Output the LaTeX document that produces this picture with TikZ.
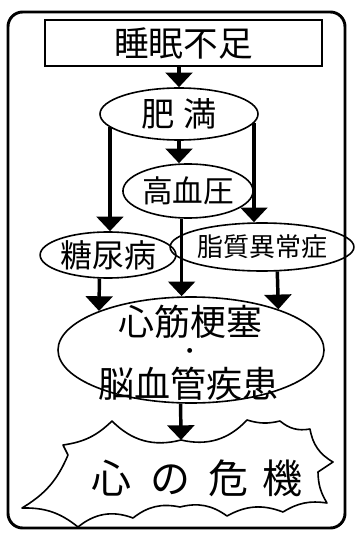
\documentclass[tikz,border=0pt]{standalone}
\usepackage{fontspec}
\newfontfamily\jp{Noto Sans CJK JP}
\usetikzlibrary{shapes.geometric,arrows.meta}
\newcommand\pxu{0.75pt}
\newcommand\fs[1]{\jp\fontsize{#1}{#1}\selectfont}
\begin{document}
\begin{tikzpicture}[x=0.75pt,y=-0.75pt,
  outline/.style={draw,line width=1.2pt,inner sep=0pt},
  oval/.style={outline,ellipse},
  txt/.style={inner sep=0pt},
  arr/.style={line width=2.6pt,-{Triangle[width=20pt,length=11pt]}},
  frame/.style={draw,line width=2.2pt,rounded corners=11pt},
  burst/.style={draw,line width=1.2pt,line join=round}]
\useasboundingbox (0,0) rectangle (354,534);
\draw[frame] (8,12) rectangle (345,528);

\node[outline,minimum width=277*\pxu,minimum height=46*\pxu,font=\fs{26}] (sm) at (183.5,43) {睡眠不足};
\node[oval,minimum width=158*\pxu,minimum height=52*\pxu,font=\fs{25}] (hm) at (179,114) {肥\hspace{6pt}満};
\node[oval,minimum width=128*\pxu,minimum height=54*\pxu,font=\fs{23}] (kk) at (188,191) {高血圧};
\node[oval,minimum width=130*\pxu,minimum height=46*\pxu,font=\fs{24}] (tn) at (108,255) {糖尿病};
\node[oval,minimum width=150*\pxu,minimum height=48*\pxu,font=\fs{19.5}] (sk) at (262,247) {脂質異常症};
\node[oval,minimum width=266*\pxu,minimum height=106*\pxu] (sb) at (191,350) {};
\node[txt,font=\fs{27}] (t1) at (190,322) {心筋梗塞};
\node[txt,font=\jp\fontsize{13}{13}\bfseries\selectfont] (t2) at (190,353) {・};
\node[txt,font=\fs{27}] (t3) at (188,384) {脳血管疾患};

% burst
\coordinate (bt) at (181,440);
\draw[burst] (22,508) to[bend right=18] (68,455) -- (63,445)
  to[bend right=18] (112,421)
  to[bend right=30] (bt)
  to[bend right=30] (247,420)
  to[bend right=15] (280,421)
  to[bend right=25] (310,429)
  to[bend right=25] (333,462)
  -- (318,472)
  to[bend right=15] (327,503)
  to[bend right=20] (283,512)
  to[bend right=25] (227,516)
  to[bend right=25] (180,507)
  to[bend right=25] (133,518)
  to[bend right=30] (78,527)
  to[bend right=20] cycle;
\node[txt,font=\fs{30}] (kiki) at (197,478) {心\hspace{14pt}の\hspace{14pt}危\hspace{10pt}機};

% arrows
\draw[arr] (sm.south -| hm.center) -- (hm.north);
\draw[arr] (hm.south) -- (hm.south |- kk.north);
\draw[arr] (hm.191.6) -- (hm.191.6 |- tn.north);
\draw[arr] (hm.353) -- (hm.353 |- sk.north);
\draw[arr] (kk.257) -- (kk.257 |- sb.north);
\draw[arr] (tn.250.7) -- (sb.157);
\draw[arr] (sk.302.6) -- (sb.25.2);
\draw[arr] (sb.259.3) -- (bt);
\end{tikzpicture}
\end{document}
